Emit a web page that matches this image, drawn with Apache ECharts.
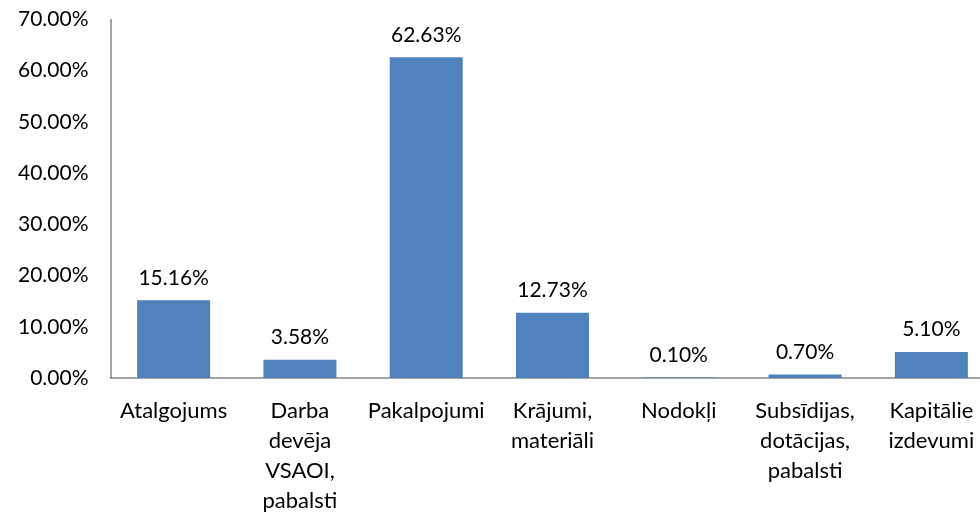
<!DOCTYPE html>
<html>
<head>
<meta charset="utf-8">
<script src="https://cdn.jsdelivr.net/npm/echarts@6/dist/echarts.min.js"></script>
<style>html,body{margin:0;padding:0;background:#fff}#c{width:980px;height:518px}</style>
</head>
<body>
<div id="c"></div>
<script>
const categories = ["Atalgojums", "Darba\ndevēja\nVSAOI,\npabalsti", "Pakalpojumi", "Krājumi,\nmateriāli", "Nodokļi", "Subsīdijas,\ndotācijas,\npabalsti", "Kapitālie\nizdevumi"];
const values = [15.16, 3.58, 62.63, 12.73, 0.10, 0.70, 5.10];
const yMin = 0, yMax = 70, yStep = 10;

const chart = echarts.init(document.getElementById('c'), null, {renderer: 'canvas'});
chart.setOption({
  animation: false,
  backgroundColor: '#ffffff',
  grid: {left: 110.5, width: 884, top: 19.5, bottom: 140, containLabel: false, outerBoundsMode: 'none'},
  xAxis: {
    type: 'category',
    data: categories,
    axisLine: {show: true, lineStyle: {color: '#868686', width: 1.5}},
    axisTick: {show: false},
    axisLabel: {
      interval: 0, margin: 18, color: '#000',
      fontFamily: 'Lato', fontSize: 22, lineHeight: 30, align: 'center'
    },
    splitLine: {show: false}
  },
  yAxis: {
    type: 'value',
    min: yMin, max: yMax, interval: yStep,
    axisLine: {show: true, lineStyle: {color: '#868686', width: 1.5}},
    axisTick: {show: false},
    splitLine: {show: false},
    axisLabel: {
      margin: 22, color: '#000', fontFamily: 'Lato', fontSize: 21,
      formatter: v => v.toFixed(2) + '%'
    }
  },
  series: [{
    type: 'bar',
    data: values,
    barWidth: 73,
    itemStyle: {color: '#4F81BD'},
    label: {
      show: true, position: 'top', distance: 12,
      color: '#000', fontFamily: 'Lato', fontSize: 21,
      formatter: p => p.value.toFixed(2) + '%'
    }
  }]
});
</script>
</body>
</html>
